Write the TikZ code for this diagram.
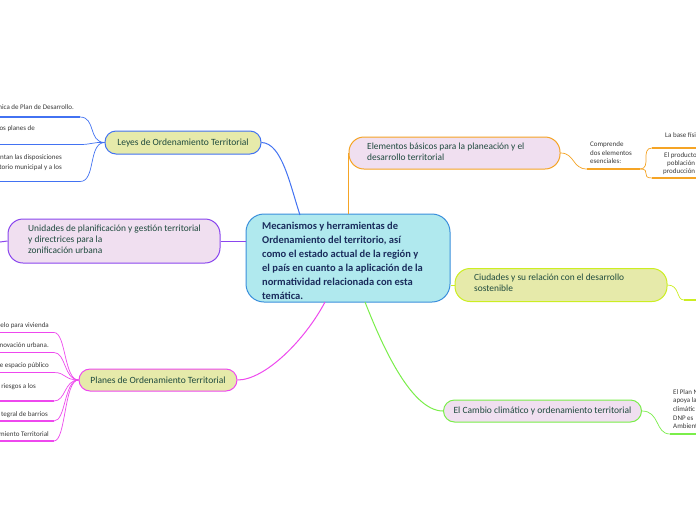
\documentclass[tikz,border=0pt]{standalone}
\usepackage{fontspec}
\setmainfont{Carlito}
\begin{document}
\definecolor{cyanfill}{HTML}{B0E9EE}
\definecolor{cenborder}{HTML}{3A8FDC}
\definecolor{ygfill}{HTML}{E6EAAA}
\definecolor{pinkfill}{HTML}{F0DFF0}
\definecolor{cblue}{HTML}{4272F2}
\definecolor{cpurple}{HTML}{8A46EE}
\definecolor{cmag}{HTML}{EE48EE}
\definecolor{corange}{HTML}{F5A425}
\definecolor{cyg}{HTML}{CCEE22}
\definecolor{cgreen}{HTML}{7AEE4A}
\definecolor{nodetext}{HTML}{1F4A3E}
\definecolor{centext}{HTML}{1A2C5C}
\definecolor{leaftext}{HTML}{3A3A3A}
\begin{tikzpicture}[x=1pt,y=-1pt,
  topic/.style={draw, line width=1pt, inner sep=0pt, text=nodetext, font=\fontsize{9.5}{11}\selectfont},
  topictext/.style={text=nodetext, anchor=north west, align=left, inner sep=0pt, font=\fontsize{9.4}{11}\selectfont},
  leaf/.style={text=leaftext, inner sep=0pt, font=\fontsize{7}{8.5}\selectfont, align=left},
  uline/.style={line width=1.8pt},
  thin/.style={line width=0.7pt}]
\useasboundingbox (0,0) rectangle (696,520);
\fill[white] (0,0) rectangle (696,520);

% central
\node[draw=cenborder, fill=cyanfill, line width=1pt, rounded corners=18pt, minimum width=204pt, minimum height=88pt, inner sep=0pt] (cen) at (348,258) {};
\node[text=centext, anchor=north west, align=left, inner sep=0pt, font=\bfseries\fontsize{10.5}{13.9}\selectfont] (centxt) at (262,222)
 {Mecanismos y herramientas de\\Ordenamiento del territorio, así\\como el estado actual de la región y\\el país en cuanto a la aplicación de la\\normatividad relacionada con esta\\temática.};

% Leyes
\node[topic, draw=cblue, fill=ygfill, rounded corners=11pt, minimum width=156pt, minimum height=23pt] (leyes) at (183,142.5) {Leyes de Ordenamiento Territorial};
\coordinate (cenL) at (300,215);
\draw[cblue, line width=1pt] (leyes.east) .. controls (282,143) and (290,185) .. (cenL);
\coordinate (l1s) at (0,117); \coordinate (l1e) at (80,117);
\coordinate (l2s) at (0,144.5); \coordinate (l2e) at (80,144.5);
\coordinate (l3s) at (0,181.5); \coordinate (l3e) at (80,181.5);
\draw[cblue, uline] (l1s) -- (l1e);
\draw[cblue, uline] (l2s) -- (l2e);
\draw[cblue, uline] (l3s) -- (l3e);
\draw[cblue, thin] (leyes.west) .. controls (88,142) and (96,117) .. (l1e);
\draw[cblue, thin] (leyes.west) .. controls (92,142) and (92,144.5) .. (l2e);
\draw[cblue, thin] (leyes.west) .. controls (88,143) and (96,181.5) .. (l3e);
\node[leaf, anchor=base east] (lt1) at (74,109.5) {nica de Plan de Desarrollo.};
\node[leaf, anchor=base east] (lt2) at (35,130.5) {os planes de};
\node[leaf, anchor=base east] (lt3) at (62,159.5) {ntan las disposiciones};
\node[leaf, anchor=base east] (lt4) at (62,169) {torio municipal y a los};

% Unidades
\node[topic, draw=cpurple, fill=pinkfill, rounded corners=15pt, minimum width=212pt, minimum height=44pt] (unid) at (114,241) {};
\node[topictext] (unidtxt) at (28,225)
 {Unidades de planificación y gestión territorial\\y directrices para la\\zonificación urbana};
\draw[cpurple, line width=1pt] (unid.east) -- (unid.east -| cen.west);
\coordinate (ustub) at (0,242);
\draw[cpurple, line width=1pt] (unid.west) -- (ustub);

% Planes
\node[topic, draw=cmag, fill=ygfill, rounded corners=11pt, minimum width=158pt, minimum height=22pt] (planes) at (158,380) {Planes de Ordenamiento Territorial};
\coordinate (cenP) at (325,302);
\draw[cmag, line width=1pt] (planes.east) .. controls (265,380) and (305,340) .. (cenP);
\foreach \i/\y in {1/332.5,2/352.5,3/372.5,4/401,5/421,6/441}{
  \coordinate (p\i s) at (0,\y);
  \coordinate (p\i e) at (54,\y);
  \draw[cmag, uline] (p\i s) -- (p\i e);
  \draw[cmag, thin] (planes.west) .. controls (64,380) and (66,\y) .. (p\i e);
}
\node[leaf, anchor=base east] (pt1) at (49,327.5) {elo para vivienda};
\node[leaf, anchor=base east] (pt2) at (49,347.5) {novación urbana.};
\node[leaf, anchor=base east] (pt3) at (49,367.5) {e espacio público};
\node[leaf, anchor=base east] (pt4) at (36,388) {e riesgos a los};
\node[leaf, anchor=base east] (pt5) at (48,416.5) {tegral de barrios};
\node[leaf, anchor=base east] (pt6) at (49,436.5) {miento Territorial};

% Elementos
\node[topic, draw=corange, fill=pinkfill, rounded corners=15pt, minimum width=211pt, minimum height=32pt] (elem) at (454.5,153) {};
\node[topictext] (elemtxt) at (367,143)
 {Elementos básicos para la planeación y el\\desarrollo territorial};
\draw[corange, line width=1pt] (elem.west) -- (elem.west |- cen.north);
\coordinate (e1s) at (587,169); \coordinate (e1e) at (640,169);
\draw[corange, uline] (e1s) -- (e1e);
\draw[corange, thin] (elem.east) .. controls (575,153) and (572,169) .. (e1s);
\node[leaf, anchor=north west] (et1) at (590,141.5) {Comprende\\dos elementos\\esenciales:};
\coordinate (e2s) at (652,148); \coordinate (e2e) at (696,148);
\coordinate (e3s) at (652,178); \coordinate (e3e) at (696,178);
\draw[corange, uline] (e2s) -- (e2e);
\draw[corange, uline] (e3s) -- (e3e);
\draw[corange, thin] (e1e) .. controls (652,169) and (640,148) .. (e2s);
\draw[corange, thin] (e1e) .. controls (652,169) and (640,178) .. (e3s);
\node[leaf, anchor=base west] (et2) at (665,137) {La base físi};
\node[leaf, anchor=base west] (et3) at (664,157) {El producto};
\node[leaf, anchor=base west] (et4) at (667,165) {población y};
\node[leaf, anchor=base west] (et5) at (663,173) {producción};

% Ciudades
\node[topic, draw=cyg, fill=ygfill, rounded corners=15pt, minimum width=212pt, minimum height=33pt] (ciud) at (561,285) {};
\node[topictext] (ciudtxt) at (474,274)
 {Ciudades y su relación con el desarrollo\\sostenible};
\draw[cyg, line width=1pt] (ciud.west) -- (ciud.west -| cen.east);
\coordinate (c1s) at (684,300); \coordinate (c1e) at (696,300);
\draw[cyg, thin] (ciud.east) .. controls (680,285) and (676,300) .. (c1s);
\draw[cyg, uline] (c1s) -- (c1e);

% Cambio
\node[topic, draw=cgreen, fill=pinkfill, rounded corners=11pt, minimum width=198pt, minimum height=22pt] (cambio) at (542.5,411) {El Cambio climático y ordenamiento territorial};
\coordinate (cenC) at (365,302);
\draw[cgreen, line width=1pt] (cambio.west) .. controls (410,411) and (380,340) .. (cenC);
\coordinate (k1s) at (670,434); \coordinate (k1e) at (696,434);
\draw[cgreen, uline] (k1s) -- (k1e);
\draw[cgreen, thin] (cambio.east) .. controls (660,411) and (655,434) .. (k1s);
\node[leaf, anchor=north west, font=\fontsize{7}{8.7}\selectfont] (kt1) at (673,389) {El Plan N\\apoya la\\climátic\\DNP es\\Ambient};
\end{tikzpicture}
\end{document}
